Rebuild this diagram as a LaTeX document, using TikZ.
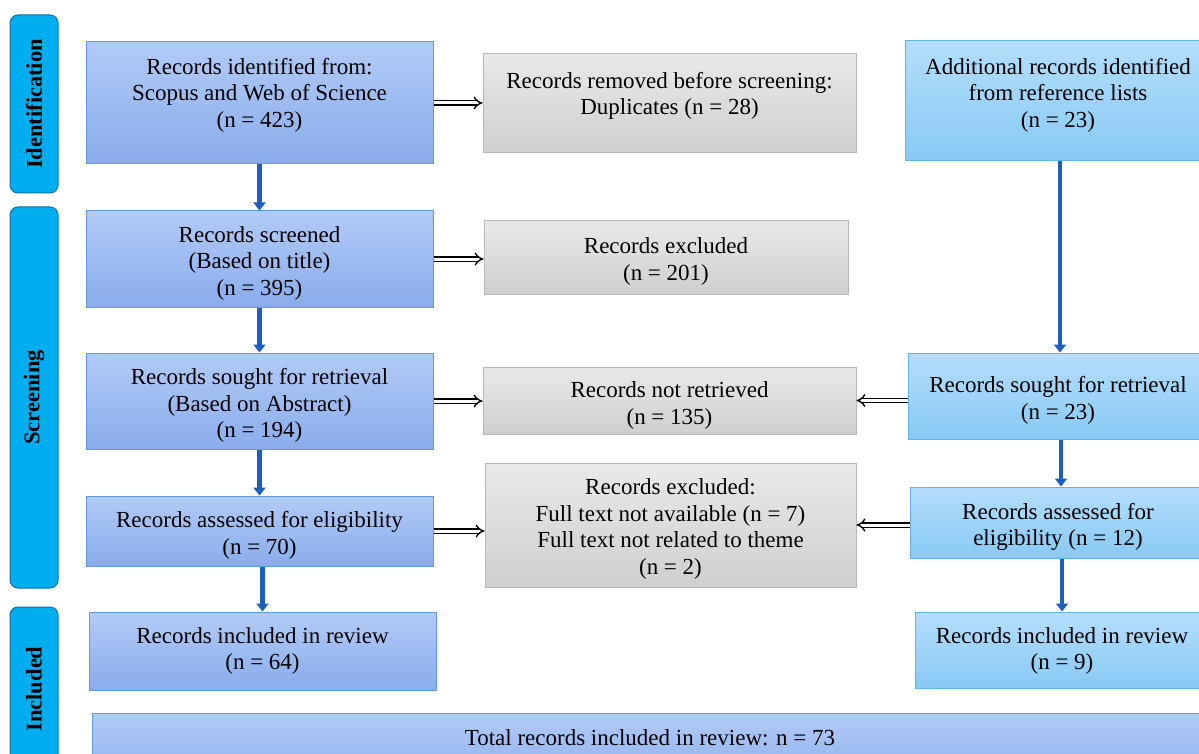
\documentclass[tikz,border=0pt]{standalone}
\usepackage{fontspec}
\setmainfont{Liberation Serif}
\usetikzlibrary{arrows.meta,calc}

\definecolor{bluetop}{HTML}{B2CBF6}
\definecolor{bluebot}{HTML}{8AACEC}
\definecolor{blueline}{HTML}{5C9AE6}
\definecolor{cyantop}{HTML}{B4DEFB}
\definecolor{cyanbot}{HTML}{88C9F4}
\definecolor{cyanline}{HTML}{5DB4EE}
\definecolor{graytop}{HTML}{E9E9E9}
\definecolor{graybot}{HTML}{CFCFCF}
\definecolor{grayline}{HTML}{B8B8B8}
\definecolor{stagefill}{HTML}{00AEEF}
\definecolor{stageline}{HTML}{0A6FA8}
\definecolor{flowblue}{HTML}{1C5FBE}

\tikzset{
  basebox/.style={rectangle, line width=1pt, inner sep=0pt},
  bluebox/.style={basebox, draw=blueline, top color=bluetop, bottom color=bluebot},
  cyanbox/.style={basebox, draw=cyanline, top color=cyantop, bottom color=cyanbot},
  graybox/.style={basebox, draw=grayline, top color=graytop, bottom color=graybot},
  boxtext/.style={align=center, inner sep=0pt, font=\fontsize{23}{26.5}\selectfont},
  stage/.style={rectangle, rounded corners=8pt, draw=stageline, line width=1pt,
    fill=stagefill, inner sep=0pt, minimum width=48pt},
  stagetext/.style={rotate=90, inner sep=0pt, font=\fontsize{22.5}{24}\selectfont\bfseries},
  flow/.style={draw=flowblue, line width=4.5pt, -{Triangle[width=12pt,length=8pt]}},
  side/.style={double, double distance=3pt, line width=1.4pt, -{Implies[]}}
}

% box from corners (x1,y1)-(x2,y2), named #6, text #7 set #8 below its centre
\newcommand{\boxat}[8]{%
  \node[#1, minimum width=#4-#2, minimum height=#5-#3] (#6)
    at ({(#2+#4)/2},{(#3+#5)/2}) {};
  \node[boxtext] (#6t) at ($(#6.center)+(0,#8)$) {#7};}

\begin{document}
\begin{tikzpicture}[x=1pt,y=-1pt]
\useasboundingbox (0,0) rectangle (1199,754);
\clip (0,0) rectangle (1199,754);
\fill[white] (0,0) rectangle (1199,754);

% stage bars
\node[stage, minimum height=178pt] (sId) at (34,104) {};
\node[stagetext] (sIdT) at (sId.center) {Identification};
\node[stage, minimum height=381pt] (sSc) at (34,397.5) {};
\node[stagetext] (sScT) at (sSc.center) {Screening};
\node[stage, minimum height=170pt] (sIn) at (34,692) {};
\node[stagetext] (sInT) at (34,689) {Included};

% left column
\boxat{bluebox}{86}{42}{433}{164}{A}{Records identified from:\\Scopus and Web of Science\\(n = 423)}{-8}
\boxat{bluebox}{86}{211}{433}{307}{D}{Records screened\\(Based on title)\\(n = 395)}{4}
\boxat{bluebox}{86}{353}{433}{449}{F}{Records sought for retrieval\\(Based on Abstract)\\(n = 194)}{4.5}
\boxat{bluebox}{86}{496}{433}{566}{I}{Records assessed for eligibility\\(n = 70)}{4.5}
\boxat{bluebox}{89}{612}{436}{690}{L}{Records included in review\\(n = 64)}{0}

% middle column
\boxat{graybox}{483}{54}{856}{153}{B}{Records removed before screening:\\Duplicates (n = 28)}{-7.5}
\boxat{graybox}{484}{221}{848}{294}{E}{Records excluded\\(n = 201)}{4}
\boxat{graybox}{483}{367}{856}{434}{G}{Records not retrieved\\(n = 135)}{5}
\boxat{graybox}{485}{463}{856}{587}{J}{Records excluded:\\Full text not available (n = 7)\\Full text not related to theme\\(n = 2)}{4}

% right column (boxes run past the right edge)
\boxat{cyanbox}{905}{41}{1215}{161}{C}{}{0}
\node[boxtext] (Ct) at (1058,95) {Additional records identified\\from reference lists\\(n = 23)};
\boxat{cyanbox}{908}{353}{1212}{439}{H}{}{0}
\node[boxtext] (Ht) at (1058,400.5) {Records sought for retrieval\\(n = 23)};
\boxat{cyanbox}{910}{487}{1212}{558}{K}{}{0}
\node[boxtext] (Kt) at (1058,527) {Records assessed for\\eligibility (n = 12)};
\boxat{cyanbox}{915}{612}{1212}{688}{M}{}{0}
\node[boxtext] (Mt) at (1062,651) {Records included in review\\(n = 9)};

% total
\boxat{bluebox}{92}{713}{1215}{790}{N}{}{0}
\node[boxtext] (Ntext) at (650,738) {Total records included in review: n = 73};

% main flow
\draw[flow] (A.south) -- (D.north);
\draw[flow] (D.south) -- (F.north);
\draw[flow] (F.south) -- (I.north);
\draw[flow] (I.south -| L.north) -- (L.north);
\draw[flow] (C.south -| 1060,0) -- (H.north -| 1060,0);
\draw[flow] (H.south -| 1061,0) -- (K.north -| 1061,0);
\draw[flow] (K.south -| 1062,0) -- (M.north -| 1062,0);

% exclusions
\draw[side] (A.east) -- (A.east -| B.west);
\draw[side] (D.east) -- (D.east -| E.west);
\draw[side] (F.east) -- (F.east -| G.west);
\draw[side] (I.east) -- (I.east -| J.west);
\draw[side] (G.east -| H.west) -- (G.east);
\draw[side] (J.east -| K.west) -- (J.east);
\end{tikzpicture}
\end{document}
